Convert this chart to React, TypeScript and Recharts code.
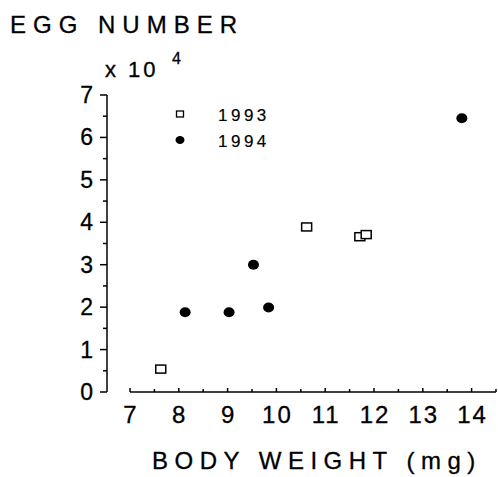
import React from "react";
import { ScatterChart, Scatter, XAxis, YAxis, ReferenceLine } from "recharts";

const weights1993 = [7.63, 10.62, 11.71, 11.84];
const eggs1993 = [0.54, 3.89, 3.66, 3.71];
const weights1994 = [8.13, 9.03, 9.53, 9.84, 13.8];
const eggs1994 = [1.88, 1.88, 3.0, 1.99, 6.45];

const xTicks = [7, 7.5, 8, 8.5, 9, 9.5, 10, 10.5, 11, 11.5, 12, 12.5, 13, 13.5, 14, 14.5];
const yTicks = [0, 0.5, 1, 1.5, 2, 2.5, 3, 3.5, 4, 4.5, 5, 5.5, 6, 6.5, 7];

const yTitle = "EGG NUMBER";
const yUnit = "x 10";
const yUnitExp = "4";
const xTitle = "BODY WEIGHT (mg)";
const seriesNames = ["1993", "1994"];

const data1993 = weights1993.map((x, i) => ({ x, y: eggs1993[i] }));
const data1994 = weights1994.map((x, i) => ({ x, y: eggs1994[i] }));

const FONT = "'Liberation Sans', Arial, Helvetica, sans-serif";
const TXT = { fontFamily: FONT, fill: "#000", stroke: "#000", strokeWidth: 0.3 } as const;

const XTick = (props: any) => {
  const { x, y, payload } = props;
  const v = payload.value;
  const major = Number.isInteger(v);
  return (
    <g>
      <line x1={x} x2={x} y1={y} y2={y - (major ? 4 : 3)} stroke="#000" strokeWidth={1.5} />
      {major && v <= 14 ? (
        <text x={x + 1} y={y + 31} textAnchor="middle" fontSize={24} letterSpacing={2} {...TXT}>
          {v}
        </text>
      ) : null}
    </g>
  );
};

const YTick = (props: any) => {
  const { x, y, payload } = props;
  const v = payload.value;
  const major = Number.isInteger(v);
  return (
    <g>
      <line x1={x - (major ? 7 : 4)} x2={x} y1={y} y2={y} stroke="#000" strokeWidth={1.5} />
      {major ? (
        <text x={x - 14} y={y + 8} textAnchor="end" fontSize={23} {...TXT}>
          {v}
        </text>
      ) : null}
    </g>
  );
};

const SquareShape = (props: any) => {
  const { cx, cy } = props;
  return <rect x={cx - 5} y={cy - 4} width={10} height={8} fill="#fff" stroke="#000" strokeWidth={1.5} />;
};

const CircleShape = (props: any) => {
  const { cx, cy } = props;
  return <ellipse cx={cx} cy={cy} rx={5.5} ry={5} fill="#000" />;
};

export default function App() {
  return (
    <div style={{ position: "fixed", left: 0, top: 0, width: 498, height: 477, background: "#fff" }}>
      <ScatterChart width={498} height={477} margin={{ top: 95, right: 2, bottom: 0, left: 0 }}>
        <XAxis
          type="number"
          dataKey="x"
          domain={[7, 14.5]}
          ticks={xTicks}
          interval={0}
          padding={{ left: 23, right: 0 }}
          axisLine={false}
          tickLine={false}
          tickSize={0}
          tickMargin={0}
          height={85}
          tick={<XTick />}
          allowDataOverflow
        />
        <YAxis
          type="number"
          dataKey="y"
          domain={[0, 7]}
          ticks={yTicks}
          interval={0}
          width={107}
          axisLine={{ stroke: "#000", strokeWidth: 1.5 }}
          tickLine={false}
          tickSize={0}
          tickMargin={0}
          tick={<YTick />}
          allowDataOverflow
        />
        <ReferenceLine
          segment={[{ x: 7, y: 0 }, { x: 14.5, y: 0 }]}
          stroke="#000"
          strokeWidth={1.5}
        />
        <Scatter name={seriesNames[0]} data={data1993} shape={<SquareShape />} isAnimationActive={false} />
        <Scatter name={seriesNames[1]} data={data1994} shape={<CircleShape />} isAnimationActive={false} />
      </ScatterChart>
      <svg width={498} height={477} style={{ position: "absolute", left: 0, top: 0, pointerEvents: "none" }}>
        <text x={10} y={33} fontSize={24} letterSpacing={7} {...TXT}>
          {yTitle}
        </text>
        <text x={105} y={77} fontSize={22} letterSpacing={3} {...TXT}>
          {yUnit}
        </text>
        <text x={172} y={64} fontSize={16} {...TXT}>
          {yUnitExp}
        </text>
        <rect x={176.5} y={111} width={7} height={6} fill="#fff" stroke="#000" strokeWidth={1.3} />
        <ellipse cx={180} cy={140} rx={4.5} ry={4} fill="#000" />
        <text x={218} y={121} fontSize={17} letterSpacing={3.5} {...TXT} strokeWidth={0.2}>
          {seriesNames[0]}
        </text>
        <text x={218} y={147} fontSize={17} letterSpacing={3.5} {...TXT} strokeWidth={0.2}>
          {seriesNames[1]}
        </text>
        <text x={152} y={469} fontSize={24} letterSpacing={6.5} {...TXT}>
          {xTitle}
        </text>
      </svg>
    </div>
  );
}
